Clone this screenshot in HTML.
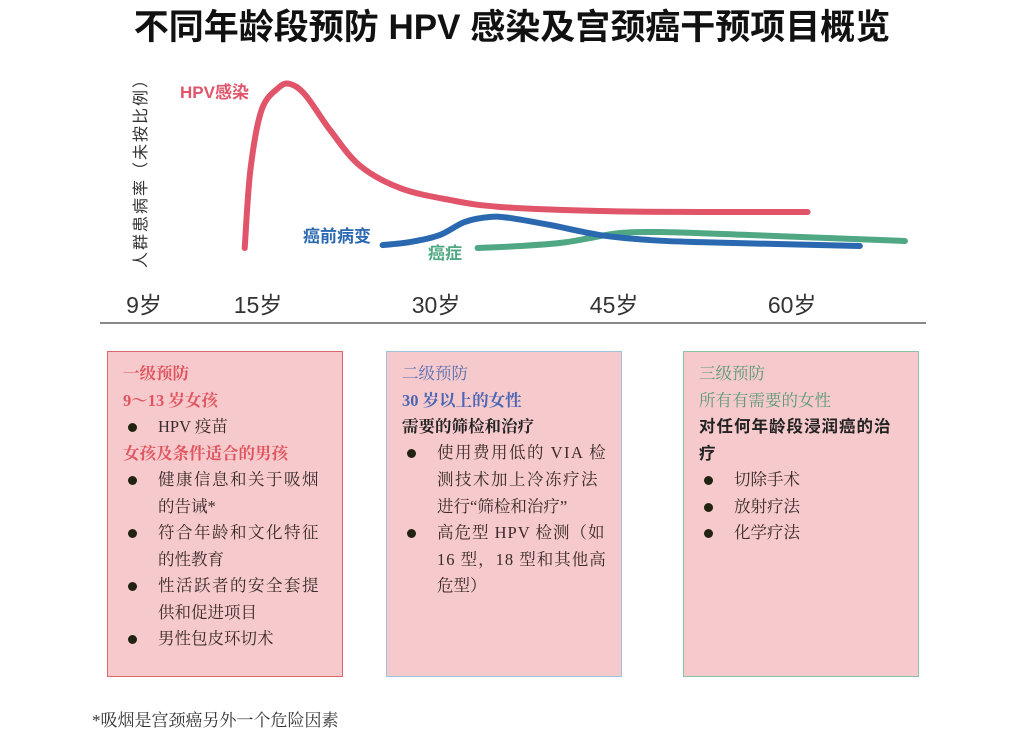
<!DOCTYPE html>
<html><head><meta charset="utf-8"><style>
body{margin:0;width:1024px;height:737px;background:#fff;overflow:hidden;position:relative;font-family:"Liberation Sans","Noto Sans CJK SC",sans-serif}
.t{position:absolute;white-space:nowrap}
.box{position:absolute;top:351px;width:236px;height:326px;background:#f6cacc;box-sizing:border-box}
.box .l{position:absolute;left:15px;font-family:"Liberation Serif","Noto Serif CJK SC",serif;font-size:16.5px;line-height:20px;white-space:nowrap;color:#3a2a2a}
.b{font-weight:bold}
.dot{position:absolute;left:20px;width:9px;height:9px;border-radius:50%;background:#221}
</style></head><body>
<div class="t" style="left:0;width:1024px;text-align:center;top:-1px;font-size:35px;font-weight:bold;color:#111">不同年龄段预防 HPV 感染及宫颈癌干预项目概览</div>
<svg id="chart" width="1024" height="330" style="position:absolute;left:0;top:0"></svg>
<div class="box" style="left:107px;border:1.5px solid #d9686d">
<div class="l b" style="top:12px;color:#e0555f">一级预防</div>
<div class="l b" style="top:39px;color:#e0555f">9～13 岁女孩</div>
<div class="dot" style="top:71px"></div><div class="l" style="top:65px;left:50px">HPV 疫苗</div>
<div class="l b" style="top:92px;color:#e0555f">女孩及条件适合的男孩</div>
<div class="dot" style="top:124px"></div><div class="l" style="top:118px;left:50px;letter-spacing:1.5px">健康信息和关于吸烟</div>
<div class="l" style="top:145px;left:50px">的告诫*</div>
<div class="dot" style="top:177px"></div><div class="l" style="top:171px;left:50px;letter-spacing:1.5px">符合年龄和文化特征</div>
<div class="l" style="top:198px;left:50px">的性教育</div>
<div class="dot" style="top:230px"></div><div class="l" style="top:224px;left:50px;letter-spacing:1.5px">性活跃者的安全套提</div>
<div class="l" style="top:251px;left:50px">供和促进项目</div>
<div class="dot" style="top:283px"></div><div class="l" style="top:277px;left:50px">男性包皮环切术</div>
</div>
<div class="box" style="left:386px;border:1.5px solid #9cc3dc">
<div class="l" style="top:12px;color:#5a6fb0">二级预防</div>
<div class="l b" style="top:39px;color:#4a66b5">30 岁以上的女性</div>
<div class="l b" style="top:65px;color:#222">需要的筛检和治疗</div>
<div class="dot" style="top:97px"></div><div class="l" style="top:91px;left:50px;letter-spacing:1.5px">使用费用低的 VIA 检</div>
<div class="l" style="top:118px;left:50px;letter-spacing:1.5px">测技术加上冷冻疗法</div>
<div class="l" style="top:145px;left:50px">进行“筛检和治疗”</div>
<div class="dot" style="top:177px"></div><div class="l" style="top:171px;left:50px;letter-spacing:1px">高危型 HPV 检测（如</div>
<div class="l" style="top:198px;left:50px;letter-spacing:1px">16 型，18 型和其他高</div>
<div class="l" style="top:224px;left:50px">危型）</div>
</div>
<div class="box" style="left:683px;border:1.5px solid #8ac4a0">
<div class="l" style="top:12px;color:#5a9a78">三级预防</div>
<div class="l" style="top:39px;color:#5a9a78">所有有需要的女性</div>
<div class="l b" style="top:65px;color:#222;font-family:'Liberation Sans','Noto Sans CJK SC',sans-serif;letter-spacing:1px">对任何年龄段浸润癌的治</div>
<div class="l b" style="top:92px;color:#222;font-family:'Liberation Sans','Noto Sans CJK SC',sans-serif">疗</div>
<div class="dot" style="top:124px"></div><div class="l" style="top:118px;left:50px">切除手术</div>
<div class="dot" style="top:151px"></div><div class="l" style="top:145px;left:50px">放射疗法</div>
<div class="dot" style="top:177px"></div><div class="l" style="top:171px;left:50px">化学疗法</div>
</div>
<div class="t" style="left:92px;top:706px;font-size:17px;color:#333;font-family:'Liberation Serif','Noto Serif CJK SC',serif">*吸烟是宫颈癌另外一个危险因素</div>
<script>
const tickAges=[9,15,30,45,60];
const tickLabels=["9岁","15岁","30岁","45岁","60岁"];
const hpvAges=[14.3,14.6,15.3,16.7,17.7,19,21.1,23.6,27,31.2,35.4,43.8,52.2,61.3];
const hpvVals=[11.8,53.8,86,97.8,100,94,75,56,44,37.6,33.9,31.7,31.2,31.2];
const preAges=[25.5,27.8,30.3,32.4,34.5,36.2,39.6,43.8,48,52.2,65.7];
const preVals=[13.4,15,18.8,25.8,28.5,28,24.2,18.8,16.1,15,12.9];
const canAges=[33.5,37.1,40.4,43,45.5,48.9,56.4,69.5];
const canVals=[11.8,12.9,14.5,17.2,19.9,20.4,18.8,15.6];
function x(a){return a<15?144+(a-9)*19:258+(a-15)*11.87;}
function y(v){return 270-v*1.86;}
const svg=document.getElementById('chart');const NS='http://www.w3.org/2000/svg';
function mk(t,at){const e=document.createElementNS(NS,t);for(const k in at)e.setAttribute(k,at[k]);svg.appendChild(e);return e;}
function path(ages,vals){const p=ages.map((a,i)=>[x(a),y(vals[i])]);let d='M'+p[0][0]+','+p[0][1];
for(let i=0;i<p.length-1;i++){const p0=p[Math.max(0,i-1)],p1=p[i],p2=p[i+1],p3=p[Math.min(p.length-1,i+2)];
d+=` C${p1[0]+(p2[0]-p0[0])/6},${p1[1]+(p2[1]-p0[1])/6} ${p2[0]-(p3[0]-p1[0])/6},${p2[1]-(p3[1]-p1[1])/6} ${p2[0]},${p2[1]}`;}return d;}
let e;
e=mk('path',{d:path(canAges,canVals),fill:'none',stroke:'#4fa883','stroke-width':6,'stroke-linecap':'round'});


e=mk('path',{d:path(preAges,preVals),fill:'none',stroke:'#2a68b0','stroke-width':6,'stroke-linecap':'round'});


e=mk('path',{d:path(hpvAges,hpvVals),fill:'none',stroke:'#e0556a','stroke-width':6,'stroke-linecap':'round'});


function txt(s,at,name){const t=mk('text',at);t.textContent=s;return t;}
txt('HPV感染',{x:180,y:98,fill:'#e0556a','font-size':17,'font-weight':'bold'},'hpv-label');
txt('癌前病变',{x:303,y:242,fill:'#2a68b0','font-size':17,'font-weight':'bold'},'precancer-label');
txt('癌症',{x:428,y:259,fill:'#4fa883','font-size':17,'font-weight':'bold'},'cancer-label');
txt('人群患病率（未按比例）',{x:0,y:0,fill:'#333','font-size':16,'letter-spacing':2,transform:'translate(146,268) rotate(-90)'},'y-axis-title');
tickAges.forEach((a,i)=>{const t=mk('text',{x:x(a),y:313,fill:'#333','font-size':23,'text-anchor':'middle'});t.textContent=tickLabels[i];

});
e=mk('line',{x1:100,y1:323,x2:926,y2:323,stroke:'#888','stroke-width':2});


</script>
</body></html>
